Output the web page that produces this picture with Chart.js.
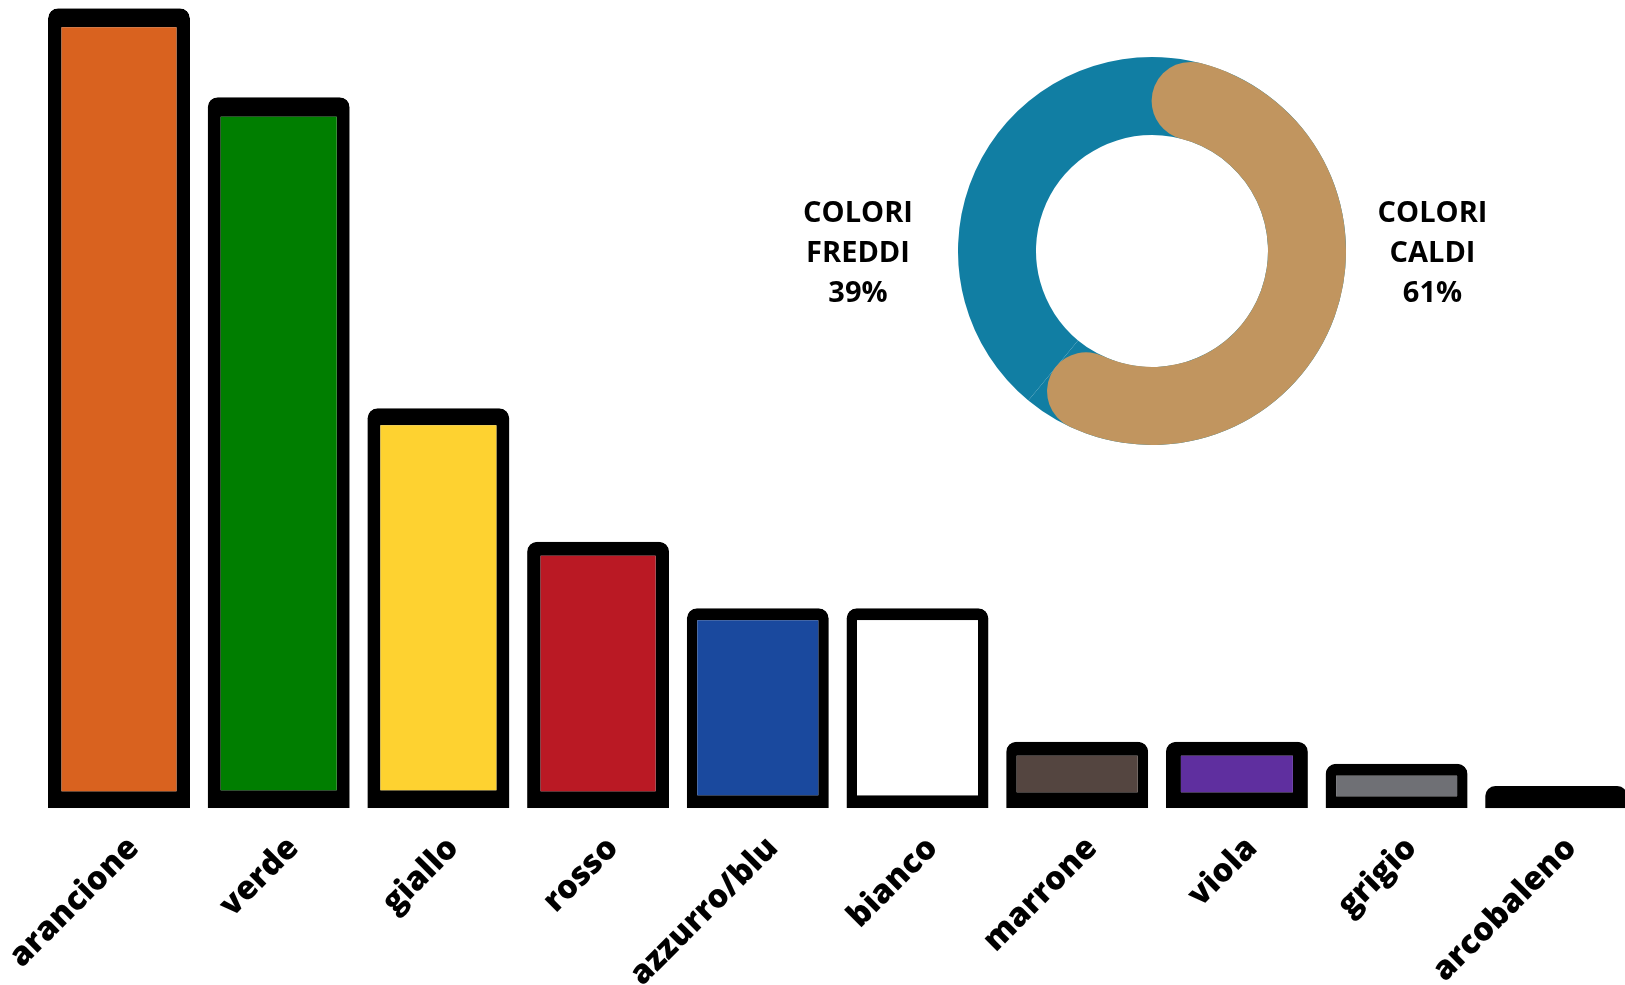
<!DOCTYPE html>
<html><head><meta charset="utf-8">
<script src="https://cdn.jsdelivr.net/npm/chart.js@4.4.0/dist/chart.umd.min.js"></script>
<style>
html,body{margin:0;padding:0;background:#fff;overflow:hidden;width:1625px;height:985px;position:relative;}
#barWrap{position:absolute;left:0;top:0;width:1640px;height:985px;}
.ringBox{position:absolute;left:957.5px;top:57.3px;width:388px;height:388px;}
.lbl{position:absolute;width:200px;text-align:center;font-family:'Open Sans',sans-serif;font-weight:700;font-size:29px;line-height:40px;color:#000;}
</style></head><body>
<div id="barWrap"><canvas id="bars"></canvas></div>
<div class="ringBox"><canvas id="ring"></canvas></div>
<div class="ringBox"><canvas id="arc"></canvas></div>
<div class="lbl" id="lblCold" style="left:758px;top:190.7px;"></div>
<div class="lbl" id="lblWarm" style="left:1332.5px;top:190.7px;"></div>
<script>
// ---- data ----
const categories = ['arancione','verde','giallo','rosso','azzurro/blu','bianco','marrone','viola','grigio','arcobaleno'];
const counts = [36, 32, 18, 12, 9, 9, 3, 3, 2, 1];
const groupNames = [['COLORI','CALDI'], ['COLORI','FREDDI']];
const groupShares = [61, 39];

// ---- styles ----
const barColors = ['#D9621F','#007E00','#FED230','#BA1924','#1A499E','#FFFFFF','#544540','#5F2F9F','#6F7075','#000000'];
const borderTop = [19, 19.5, 17, 14, 12, 12, 14, 14, 12, 0];
const borderSide = [13.5, 13, 13, 13.5, 10.5, 10.5, 10.5, 15, 10.5, 0];
const borderBottom = [17, 18, 18, 17, 13, 13, 16, 16, 12, 0];
const warmColor = '#C1955F';
const coldColor = '#117EA3';

Chart.defaults.font.family = "'Open Sans', sans-serif";
Chart.defaults.animation = false;

new Chart(document.getElementById('bars'), {
  type: 'bar',
  data: {
    labels: categories,
    datasets: [{
      data: counts,
      backgroundColor: barColors,
      borderColor: '#000000',
      borderSkipped: false,
      borderWidth: (ctx) => ({
        top: borderTop[ctx.dataIndex],
        bottom: borderBottom[ctx.dataIndex],
        left: borderSide[ctx.dataIndex],
        right: borderSide[ctx.dataIndex]
      }),
      borderRadius: {topLeft: 10, topRight: 10, bottomLeft: 0, bottomRight: 0},
      barPercentage: 0.889,
      categoryPercentage: 1
    }]
  },
  options: {
    responsive: true,
    maintainAspectRatio: false,
    animation: false,
    events: [],
    layout: {padding: {left: 39.15, right: 3.85, top: 8.3, bottom: 0}},
    plugins: {legend: {display: false}, tooltip: {enabled: false}},
    scales: {
      y: {display: false, min: 0, max: 36},
      x: {
        grid: {display: false, drawTicks: false},
        border: {display: false},
        ticks: {
          color: '#000',
          font: {size: 32.5, weight: 800},
          minRotation: 45, maxRotation: 45,
          autoSkip: false,
          padding: 21,
          labelOffset: 15
        },
        afterFit: (axis) => {
          axis.height = 176.7;
          axis.paddingLeft = 0;
          axis.paddingRight = 0;
        }
      }
    }
  }
});

const ringLabels = groupNames.map(n => n.join(' '));
const commonDonut = {
  responsive: true,
  maintainAspectRatio: false,
  animation: false,
  events: [],
  cutout: '59.8%',
  plugins: {legend: {display: false}, tooltip: {enabled: false}}
};

// underlying full ring
new Chart(document.getElementById('ring'), {
  type: 'doughnut',
  data: {labels: ringLabels, datasets: [{data: groupShares, backgroundColor: [coldColor, coldColor], borderWidth: 0, hoverOffset: 0}]},
  options: commonDonut
});
// warm arc with round caps on top
new Chart(document.getElementById('arc'), {
  type: 'doughnut',
  data: {labels: ringLabels, datasets: [{
    data: groupShares,
    backgroundColor: [warmColor, 'rgba(0,0,0,0)'],
    borderWidth: 0,
    hoverOffset: 0,
    borderRadius: (ctx) => ctx.dataIndex === 0 ? 39 : 0
  }]},
  options: commonDonut
});

document.getElementById('lblWarm').innerHTML = groupNames[0].join('<br>') + '<br>' + groupShares[0] + '%';
document.getElementById('lblCold').innerHTML = groupNames[1].join('<br>') + '<br>' + groupShares[1] + '%';
</script>
</body></html>
